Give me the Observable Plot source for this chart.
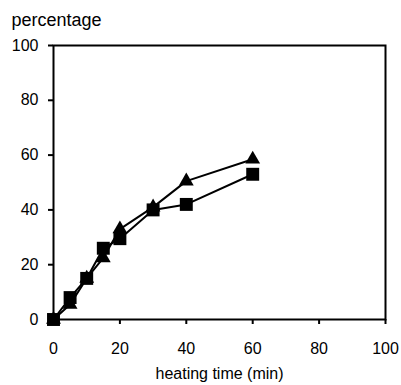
<!DOCTYPE html>
<html><head><meta charset="utf-8">
<script src="https://cdn.jsdelivr.net/npm/d3@7"></script>
<script src="https://cdn.jsdelivr.net/npm/@observablehq/plot@0.6"></script>
<style>body{margin:0;background:#fff;} svg{font-family:"Liberation Sans",Arial,sans-serif;}</style>
</head><body><div id="chart"></div>
<script>
const times = [0, 5, 10, 15, 20, 30, 40, 60];
const triangleValues = [0, 5.5, 15, 22.5, 33, 41, 50.5, 58.5];
const squareValues = [0, 8, 15, 26, 29.5, 40, 42, 53];
const xTicks = [0, 20, 40, 60, 80, 100];
const yTicks = [0, 20, 40, 60, 80, 100];
const yLabel = "percentage";
const xLabel = "heating time (min)";

const tri = times.map((t, i) => ({t, v: triangleValues[i]}));
const sq = times.map((t, i) => ({t, v: squareValues[i]}));

const chart = Plot.plot({
  width: 401, height: 385,
  marginLeft: 53, marginRight: 16, marginTop: 45, marginBottom: 66,
  style: {fontSize: "16px", color: "#000", background: "#fff"},
  x: {domain: [0, 100]},
  y: {domain: [0, 100]},
  marks: [
    Plot.axisX({ticks: xTicks, tickSize: 5, tickPadding: 18, strokeWidth: 2, fontSize: 16,
      label: xLabel, labelAnchor: "center", labelArrow: "none", labelOffset: 59}),
    Plot.axisY({ticks: yTicks, tickSize: 5, tickPadding: 10, strokeWidth: 2, fontSize: 16, label: null}),
    Plot.text([yLabel], {text: d => d, frameAnchor: "top-left", dx: -42, dy: -20,
      textAnchor: "start", lineAnchor: "bottom", fontSize: 18, fill: "#000"}),
    Plot.frame({stroke: "#000", strokeWidth: 2}),
    Plot.line(tri, {x: "t", y: "v", stroke: "#000", strokeWidth: 2}),
    Plot.line(sq, {x: "t", y: "v", stroke: "#000", strokeWidth: 2}),
    Plot.dot(tri, {x: "t", y: "v", symbol: "triangle", r: 5.5, fill: "#000"}),
    Plot.dot(sq, {x: "t", y: "v", symbol: "square", r: 7.3, fill: "#000"})
  ]
});
document.getElementById("chart").append(chart);
</script></body></html>
